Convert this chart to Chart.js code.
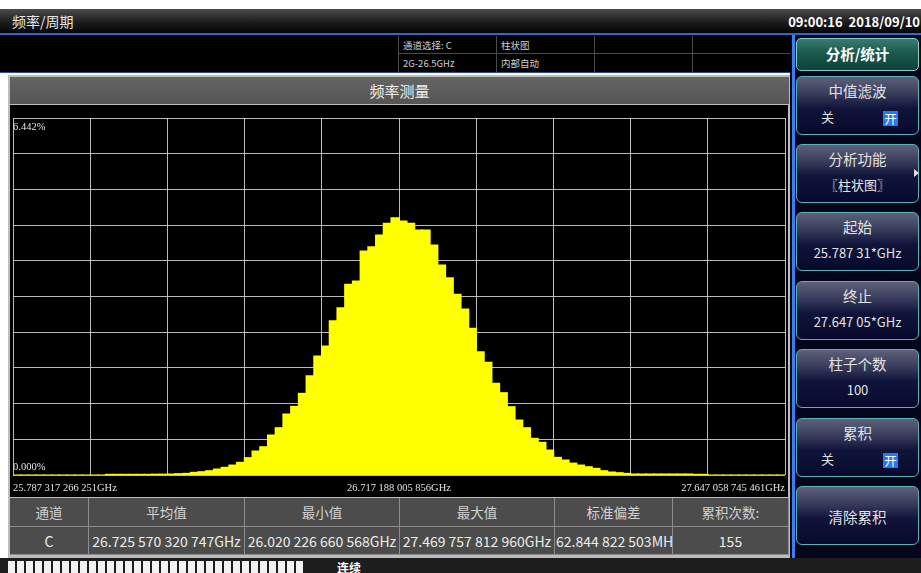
<!DOCTYPE html>
<html>
<head>
<meta charset="utf-8">
<script src="https://cdn.jsdelivr.net/npm/chart.js@4/dist/chart.umd.min.js"></script>
<style>
  html, body { margin: 0; padding: 0; }
  body {
    width: 921px; height: 573px; position: relative; overflow: hidden;
    background: #ffffff;
    font-family: "Noto Sans CJK SC", "Noto Sans", sans-serif;
  }
  .abs { position: absolute; }
  #titlebar { left: 0; top: 9px; width: 921px; height: 24px;
    background: linear-gradient(#4c4c4c 0%, #1c1c1c 55%, #050505 100%); }
  #titlebar .name { left: 12px; top: 2px; color: #e6e6e6; font-size: 14px; }
  #clock { right: 1px; top: 3px; color: #ffffff; font-size: 13px; font-weight: bold; }
  #bluebar { left: 0; top: 33px; width: 921px; height: 2px; background: #2f66c8; }
  #info { left: 0; top: 35px; width: 790px; height: 38px; background: #000;
    border-bottom: 1px solid #2a4f98; box-sizing: border-box; }
  #info .cell { position: absolute; color: #cfcfcf; font-size: 9.5px; line-height: 18px; padding-left: 4px;
    border-left: 1px solid #4a4a4a; box-sizing: border-box; height: 18px; }
  #info .hline { position: absolute; left: 398px; top: 18px; width: 392px; height: 1px; background: #4a4a4a; }
  #win { left: 8px; top: 75px; width: 783px; height: 484px; background: #bdbdbd; }
  #wintitle { left: 10px; top: 77px; width: 779px; height: 27px;
    background: linear-gradient(#646464, #555555); color: #f0f0f0; font-size: 15px;
    text-align: center; line-height: 27px; }
  #plotbox { left: 10px; top: 105px; width: 778px; height: 392px; background: #000; }
  #table { left: 10px; top: 498px; width: 779px; height: 57px; background: #4c4c4c; }
  #table .c { position: absolute; box-sizing: border-box; border-right: 1px solid #8c8c8c;
    border-bottom: 1px solid #8c8c8c; text-align: center; white-space: nowrap; overflow: hidden; }
  #table .h { color: #d2d2d2; font-size: 13.5px; line-height: 28px; height: 29px; top: 0; }
  #table .d { color: #ececec; font-size: 14px; line-height: 28px; height: 28px; top: 29px; }
  #status { left: 0; top: 558px; width: 921px; height: 15px; background: #1d1d1d; }
  #boxes { left: 8px; top: 561px; height: 12px; display: flex; }
  #boxes span { display: block; width: 7px; height: 12px; background: #f2f2f2; margin-right: 2px; }
  #mode { left: 337px; top: 559px; color: #ffffff; font-size: 12px; font-weight: bold; }
  #side { left: 790px; top: 35px; width: 131px; height: 523px; background: #04061c; }
  #sideline { left: 792px; top: 35px; width: 3px; height: 523px; background: #3c7ef0; }
  .btn { position: absolute; left: 796px; width: 123px; height: 59px; box-sizing: border-box;
    border: 1.5px solid #5fb0b6; border-radius: 6px;
    background: linear-gradient(#5d6179 0%, #3a3e5e 28%, #10143a 55%, #070a2c 100%);
    color: #e2e2e2; text-align: center; }
  .btn .t { position: absolute; left: 0; right: 0; top: 3px; font-size: 14.5px; }
  .btn .v { position: absolute; left: 0; right: 0; top: 30px; font-size: 13px; }
  .btn .off { position: absolute; left: 24px; top: 30px; font-size: 13px; }
  .btn .on { position: absolute; left: 86px; top: 34px; width: 15px; height: 15px; background: #1f7cf4;
    color: #fff; font-size: 12.5px; line-height: 15px; text-align: center; }
  #head { left: 796px; top: 38px; width: 123px; height: 33px; box-sizing: border-box;
    border: 1.5px solid #86cfc6; border-radius: 5px;
    background: linear-gradient(#3b7a6e 0%, #1a5a4d 45%, #0e4236 100%);
    color: #ffffff; font-size: 14.5px; font-weight: bold; text-align: center; line-height: 30px; }
  #arrow { left: 914px; top: 169px; width: 0; height: 0; border-top: 4px solid transparent;
    border-bottom: 4px solid transparent; border-left: 5px solid #e0e0e0; }
</style>
</head>
<body>

<div id="titlebar" class="abs">
  <div class="abs name">频率/周期</div>
  <div id="clock" class="abs">09:00:16&nbsp;&nbsp;2018/09/10</div>
</div>
<div id="bluebar" class="abs"></div>

<div id="info" class="abs">
  <div class="cell" style="left:398px;top:1px;width:98px;">通道选择: C</div>
  <div class="cell" style="left:496px;top:1px;width:98px;">柱状图</div>
  <div class="cell" style="left:594px;top:1px;width:98px;"></div>
  <div class="cell" style="left:692px;top:1px;width:98px;"></div>
  <div class="cell" style="left:398px;top:19px;width:98px;">2G-26.5GHz</div>
  <div class="cell" style="left:496px;top:19px;width:98px;">内部自动</div>
  <div class="cell" style="left:594px;top:19px;width:98px;"></div>
  <div class="cell" style="left:692px;top:19px;width:98px;"></div>
  <div class="hline"></div>
</div>

<div id="win" class="abs"></div>
<div id="wintitle" class="abs">频率测量</div>
<div id="plotbox" class="abs"><canvas id="hist" width="778" height="392"></canvas></div>
<div id="table" class="abs"></div>

<div id="status" class="abs"></div>
<div id="boxes" class="abs"></div>
<div id="mode" class="abs">连续</div>

<div id="side" class="abs"></div>
<div id="sideline" class="abs"></div>
<div id="head" class="abs">分析/统计</div>
<div class="btn" style="top:76px;"><div class="t">中值滤波</div><div class="off">关</div><div class="on">开</div></div>
<div class="btn" style="top:144px;"><div class="t">分析功能</div><div class="v">〖柱状图〗</div></div>
<div id="arrow" class="abs"></div>
<div class="btn" style="top:212px;"><div class="t">起始</div><div class="v">25.787 31*GHz</div></div>
<div class="btn" style="top:281px;"><div class="t">终止</div><div class="v">27.647 05*GHz</div></div>
<div class="btn" style="top:349px;"><div class="t">柱子个数</div><div class="v">100</div></div>
<div class="btn" style="top:418px;"><div class="t">累积</div><div class="off">关</div><div class="on">开</div></div>
<div class="btn" style="top:486px;"><div class="t" style="top:19px;">清除累积</div></div>

<script>
// Histogram: share of samples (%) falling into each of the 100 frequency bins
const binCount = 100;
const percentValues = [
  0, 0, 0, 0, 0, 0, 0, 0, 0, 0,
  0, 0, 0.012, 0.012, 0.012, 0.012, 0.012, 0.012, 0.015, 0.015,
  0.018, 0.024, 0.03, 0.048, 0.06, 0.078, 0.108, 0.139, 0.18, 0.229,
  0.313, 0.433, 0.511, 0.722, 0.854, 1.101, 1.239, 1.474, 1.792, 2.147,
  2.328, 2.785, 3.019, 3.441, 3.501, 4.042, 4.12, 4.331, 4.541, 4.643,
  4.583, 4.541, 4.421, 4.421, 4.15, 3.789, 3.561, 3.26, 2.995, 2.647,
  2.226, 2.033, 1.654, 1.486, 1.233, 0.992, 0.854, 0.662, 0.59, 0.451,
  0.319, 0.271, 0.215, 0.18, 0.15, 0.12, 0.078, 0.054, 0.042, 0.03,
  0.018, 0.018, 0.018, 0.018, 0.018, 0.018, 0.018, 0.018, 0.012, 0.012,
  0, 0, 0, 0, 0, 0, 0, 0, 0, 0
];

// Axis range and labels
const yMax = 6.442;
const yTickLabels = ['0.000%', '6.442%'];
const xTickLabels = ['25.787 317 266 251GHz', '26.717 188 005 856GHz', '27.647 058 745 461GHz'];

// Statistics table
const tableHeaders = ['通道', '平均值', '最小值', '最大值', '标准偏差', '累积次数:'];
const tableRow = ['C', '26.725 570 320 747GHz', '26.020 226 660 568GHz', '27.469 757 812 960GHz', '62.844 822 503MHz', '155'];
const tableColumnEdges = [0, 79, 235, 390, 545, 663, 779];

// Build the statistics table and the status strip
(function () {
  const t = document.getElementById('table');
  for (let r = 0; r < 2; r++) {
    const vals = r === 0 ? tableHeaders : tableRow;
    vals.forEach((txt, i) => {
      const d = document.createElement('div');
      d.className = 'c ' + (r === 0 ? 'h' : 'd');
      d.style.left = tableColumnEdges[i] + 'px';
      d.style.width = (tableColumnEdges[i + 1] - tableColumnEdges[i]) + 'px';
      if (r === 1 && i === 4) { d.style.textAlign = 'left'; d.style.paddingLeft = '1px'; }
      d.textContent = txt;
      t.appendChild(d);
    });
  }
  const b = document.getElementById('boxes');
  for (let i = 0; i < 33; i++) b.appendChild(document.createElement('span'));
})();

// Corner labels for the value range and the frequency span
const edgeLabels = {
  id: 'edgeLabels',
  afterDraw(chart) {
    const { ctx, chartArea: a, scales: { x, y } } = chart;
    ctx.save();
    ctx.fillStyle = '#e2e2e2';
    ctx.font = '10.5px "Liberation Serif", "DejaVu Serif", serif';
    ctx.textBaseline = 'middle';
    ctx.textAlign = 'left';
    ctx.fillText(yTickLabels[1], a.left, y.getPixelForValue(yMax) + 9);
    ctx.fillText(yTickLabels[0], a.left, y.getPixelForValue(0) - 8);
    const ly = a.bottom + 13;
    ctx.fillText(xTickLabels[0], x.getPixelForValue(0), ly);
    ctx.textAlign = 'center';
    ctx.fillText(xTickLabels[1], x.getPixelForValue(binCount / 2), ly);
    ctx.textAlign = 'right';
    ctx.fillText(xTickLabels[2], x.getPixelForValue(binCount), ly);
    ctx.restore();
  }
};

const gridColor = 'rgba(205,205,205,0.9)';

new Chart(document.getElementById('hist'), {
  type: 'bar',
  data: {
    datasets: [{
      data: percentValues.map((v, i) => ({ x: i + 0.5, y: v })),
      backgroundColor: '#ffff00',
      borderWidth: 0,
      // slight overlap so neighbouring columns join without seams
      barPercentage: 1.08,
      categoryPercentage: 1,
      inflateAmount: 0.5
    }]
  },
  options: {
    responsive: false,
    animation: false,
    layout: { padding: { left: 3, right: 3, top: 13, bottom: 22 } },
    plugins: { legend: { display: false }, tooltip: { enabled: false } },
    scales: {
      x: {
        type: 'linear', min: 0, max: binCount, offset: false,
        ticks: { display: false, stepSize: binCount / 10 },
        grid: { color: gridColor, lineWidth: 1, drawTicks: false, offset: false },
        border: { display: false }
      },
      y: {
        type: 'linear', min: 0, max: yMax,
        ticks: { display: false, count: 11 },
        grid: { color: gridColor, lineWidth: 1, drawTicks: false },
        border: { display: false }
      }
    }
  },
  plugins: [edgeLabels]
});
</script>
</body>
</html>
